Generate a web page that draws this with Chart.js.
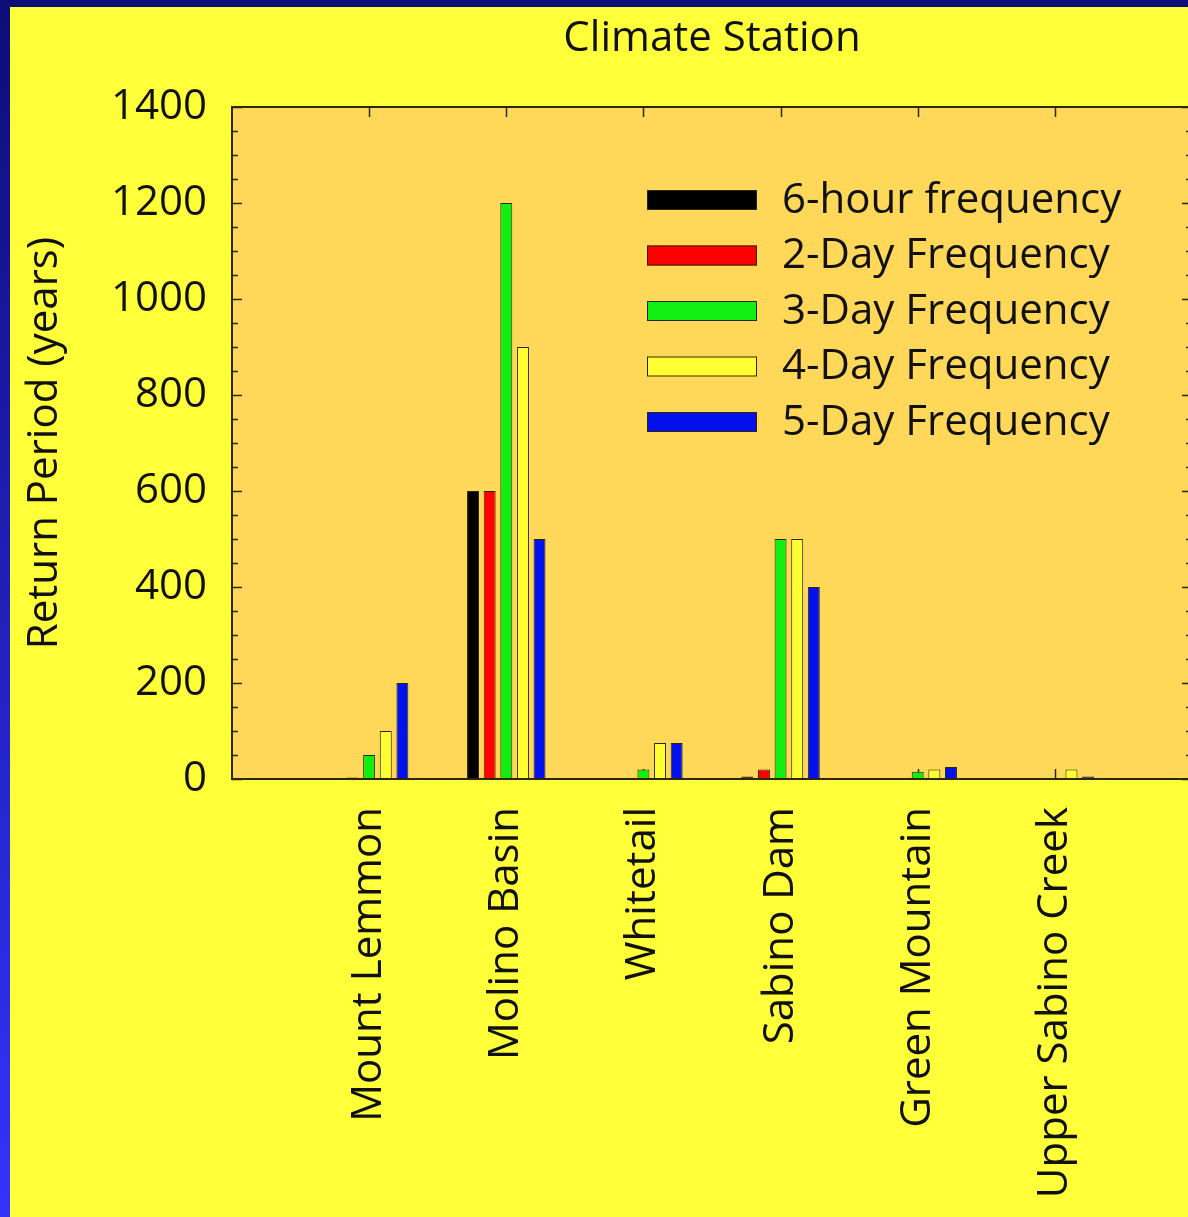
<!DOCTYPE html>
<html>
<head>
<meta charset="utf-8">
<script src="https://cdn.jsdelivr.net/npm/chart.js@4/dist/chart.umd.min.js"></script>
<style>
html, body { margin: 0; padding: 0; overflow: hidden; }
body { width: 1188px; height: 1217px; background: linear-gradient(#0d0d78, #3333ff); position: relative; }
#panel { position: absolute; left: 10px; top: 7px; right: 0; bottom: 0; background: #ffff3a; }
#wrap { position: absolute; left: 0; top: 0; width: 1200px; height: 1217px; }
</style>
</head>
<body>
<div id="panel"></div>
<div id="wrap"><canvas id="returnBar" width="1200" height="1217"></canvas></div>
<script>

// stations along the x axis
let stations = ["Mount Lemmon", "Molino Basin", "Whitetail", "Sabino Dam", "Green Mountain", "Upper Sabino Creek"];

// return period (years), null = no bar
let sixHour  = [null, 600, null, 5, null, null];
let twoDay   = [3, 600, null, 20, null, null];
let threeDay = [50, 1200, 20, 500, 15, null];
let fourDay  = [100, 900, 75, 500, 20, 20];
let fiveDay  = [200, 500, 75, 400, 25, 5];

let seriesNames = ["6-hour frequency", "2-Day Frequency", "3-Day Frequency", "4-Day Frequency", "5-Day Frequency"];
let yTicks = [0, 200, 400, 600, 800, 1000, 1200, 1400];

let barColors = ["#000000", "#ff0000", "#11ee11", "#ffff33", "#0011ee"];
let edge = "#2e2608";
let plotBg = "#ffd85a";

//empty slot on each side so the groups sit at 1..6 of a 0..7 axis
function pad(arr){
    return [null].concat(arr, [null]);
}

//plot background, inside ticks and frame
let framePlugin = {
    id: "framePlugin",
    beforeDraw(chart){
        let a = chart.chartArea;
        let ctx = chart.ctx;
        ctx.save();
        ctx.fillStyle = plotBg;
        ctx.fillRect(a.left, a.top, a.right - a.left, a.bottom - a.top);
        ctx.restore();
    },
    beforeDatasetsDraw(chart){
        let a = chart.chartArea;
        let ctx = chart.ctx;
        let y = chart.scales.y;
        let x = chart.scales.x;
        ctx.save();
        ctx.strokeStyle = edge;
        ctx.lineWidth = 1.5;
        ctx.beginPath();
        for(let v = 0; v <= 1400; v += 50){
            let py = Math.round(y.getPixelForValue(v)) + 0.5;
            let len = v % 200 == 0 ? 10 : 6;
            ctx.moveTo(a.left, py);
            ctx.lineTo(a.left + len, py);
            ctx.moveTo(a.right, py);
            ctx.lineTo(a.right - len, py);
        }
        for(let i = 1; i <= stations.length; i++){
            let px = Math.round(x.getPixelForValue(i)) + 0.5;
            ctx.moveTo(px, a.top);
            ctx.lineTo(px, a.top + 10);
            ctx.moveTo(px, a.bottom);
            ctx.lineTo(px, a.bottom - 10);
        }
        ctx.stroke();
        ctx.restore();
    },
    afterDatasetsDraw(chart){
        let a = chart.chartArea;
        let ctx = chart.ctx;
        ctx.save();
        ctx.strokeStyle = edge;
        ctx.lineWidth = 2;
        ctx.strokeRect(a.left, a.top, a.right - a.left, a.bottom - a.top);
        ctx.restore();
    }
};

//legend drawn inside the plot, top right
let legendPlugin = {
    id: "legendPlugin",
    afterDraw(chart){
        let a = chart.chartArea;
        let ctx = chart.ctx;
        let sets = chart.data.datasets;
        ctx.save();
        ctx.font = "42px 'Open Sans', sans-serif";
        ctx.textBaseline = "middle";
        ctx.textAlign = "left";
        for(let i in sets){
            let cy = a.top + 93 + i * 55.5;
            let bx = a.right - 545;
            ctx.fillStyle = sets[i].backgroundColor;
            ctx.fillRect(bx, cy - 10, 110, 20);
            ctx.strokeStyle = edge;
            ctx.lineWidth = 1;
            ctx.strokeRect(bx + 0.5, cy - 9.5, 109, 19);
            ctx.fillStyle = "#111";
            ctx.fillText(sets[i].label, bx + 135, cy + 1);
        }
        ctx.restore();
    }
};

let datasets = [];
let series = [sixHour, twoDay, threeDay, fourDay, fiveDay];
for(let i in series){
    datasets.push({
        label: seriesNames[i],
        data: pad(series[i]),
        backgroundColor: barColors[i],
        borderColor: edge,
        borderWidth: 1,
        borderSkipped: false,
        categoryPercentage: 0.606,
        barPercentage: 0.72
    });
}

Chart.defaults.font.family = "'Open Sans', sans-serif";
Chart.defaults.font.size = 42;
Chart.defaults.color = "#111";

let chart = new Chart(document.getElementById("returnBar").getContext("2d"), {
    type: "bar",
    data: {
        labels: pad(stations).map(s => s || ""),
        datasets: datasets
    },
    options: {
        responsive: false,
        animation: false,
        layout: { padding: { left: 0, right: 8, top: 0, bottom: 0 } },
        plugins: {
            legend: { display: false },
            tooltip: { enabled: false },
            title: {
                display: true,
                text: "Climate Station",
                fullSize: false,
                color: "#111",
                font: { size: 42, weight: "normal" },
                padding: { top: 14, bottom: 42.6 }
            }
        },
        scales: {
            x: {
                type: "category",
                offset: false,
                grid: { display: false, offset: false, drawTicks: false },
                border: { display: false },
                ticks: {
                    autoSkip: false,
                    minRotation: 90,
                    maxRotation: 90,
                    padding: 28,
                    color: "#111"
                },
                afterFit(scale){
                    scale.height = 438;
                    scale.paddingLeft = 0;
                    scale.paddingRight = 0;
                }
            },
            y: {
                min: 0,
                max: 1400,
                afterBuildTicks(scale){ scale.ticks = yTicks.map(v => ({ value: v })); },
                grid: { display: false, drawTicks: false },
                border: { display: false },
                ticks: {
                    padding: 25,
                    color: "#111",
                    callback: v => String(v)
                },
                title: {
                    display: true,
                    text: "Return Period (years)",
                    color: "#111",
                    padding: { top: 20, bottom: 0 }
                },
                afterFit(scale){ scale.width = 232; }
            }
        }
    },
    plugins: [framePlugin, legendPlugin]
});
</script>
</body>
</html>
